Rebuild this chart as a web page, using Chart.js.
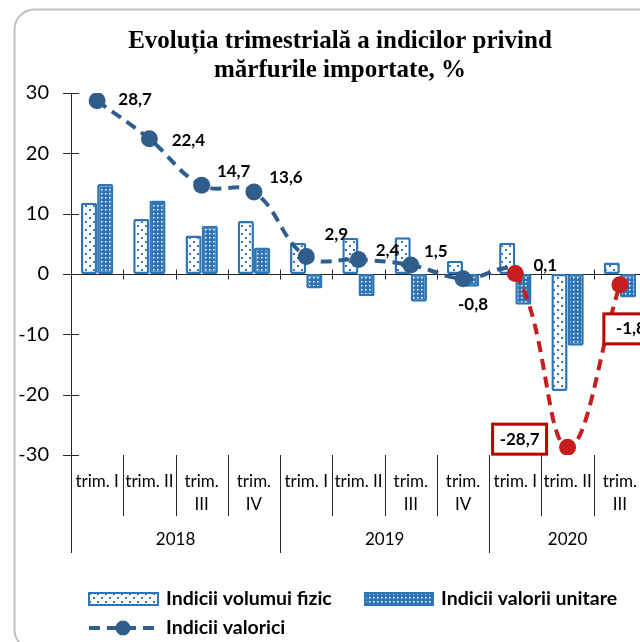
<!DOCTYPE html>
<html>
<head>
<meta charset="utf-8">
<script src="https://cdn.jsdelivr.net/npm/chart.js@4.4.1/dist/chart.umd.min.js"></script>
<style>
html,body{margin:0;padding:0;overflow:hidden;background:#fff;}
canvas{display:block;}
</style>
</head>
<body>
<canvas id="importChart" width="700" height="642"></canvas>
<script>
const categories = [['trim. I'],['trim. II'],['trim.','III'],['trim.','IV'],
                    ['trim. I'],['trim. II'],['trim.','III'],['trim.','IV'],
                    ['trim. I'],['trim. II'],['trim.','III']];
const years = ['2018','2019','2020'];
const yearSpans = [4,4,3];
const yTicks = [30,20,10,0,-10,-20,-30];
const volumFizic = [11.8, 9.1, 6.4, 8.8, 5.2, 6.0, 6.1, 2.2, 5.2, -19.4, 1.9];
const valoriUnitare = [14.9, 12.2, 8.0, 4.4, -2.4, -3.7, -4.6, -2.1, -5.1, -11.9, -3.9];
const indiciValorici = [28.7, 22.4, 14.7, 13.6, 2.9, 2.4, 1.5, -0.8, 0.1, -28.7, -1.8];
const seriesNames = ['Indicii volumui fizic','Indicii valorii unitare','Indicii valorici'];

// label placement, relative to the point
const labelOffsets = [[38,-1],[39,2],[32,-14],[32,-14],[30,-22],[29,-9],[25,-13],[10,26],[30,-8],[-48,-8],[11,44]];
const boxedLabels = [9,10];
const redFrom = 8;

const barBlue = '#2E75B6';
const lineBlue = '#2F5D8C';
const red = '#C41E1E';
const axisColor = '#262626';
const font = 'Lato';

function makePattern(size, bg, fg, dots) {
    let c = document.createElement('canvas');
    c.width = size; c.height = size;
    let g = c.getContext('2d');
    g.fillStyle = bg; g.fillRect(0,0,size,size);
    g.fillStyle = fg;
    dots.forEach(d=>g.fillRect(d[0],d[1],d[2],d[2]));
    return g.createPattern(c,'repeat');
}
const volPattern = makePattern(8,'#fff',barBlue,[[1,1,2],[5,5,2]]);
const unitPattern = makePattern(4,barBlue,'#fff',[[1,1,1.5]]);

function fmt(v) { return String(v).replace('.',','); }

const decor = {
    id: 'decor',
    beforeDraw(chart) {
        const ctx = chart.ctx;
        ctx.save();
        ctx.fillStyle = '#fff';
        ctx.fillRect(0,0,chart.width,chart.height);
        ctx.strokeStyle = '#BFBFBF';
        ctx.lineWidth = 2;
        ctx.beginPath();
        ctx.roundRect(14.5, 9.5, 760, 640, 20);
        ctx.stroke();
        ctx.fillStyle = '#000';
        ctx.font = 'bold 25px "Liberation Serif"';
        ctx.textAlign = 'center';
        ctx.textBaseline = 'alphabetic';
        ctx.fillText('Evoluția trimestrială a indicilor privind', 340, 48);
        ctx.fillText('mărfurile importate, %', 340, 77);
        ctx.restore();
    },
    beforeDatasetsDraw(chart) {
        const ctx = chart.ctx, x = chart.scales.x, y = chart.scales.y, area = chart.chartArea;
        const w = x.getPixelForValue(1) - x.getPixelForValue(0);
        ctx.save();
        ctx.strokeStyle = axisColor;
        ctx.lineWidth = 1;
        ctx.beginPath();
        yTicks.forEach(v=>{
            let py = Math.round(y.getPixelForValue(v)) + 0.5;
            ctx.moveTo(area.left - 8, py); ctx.lineTo(area.left + 8, py);
        });
        let zy = Math.round(y.getPixelForValue(0)) + 0.5;
        ctx.moveTo(area.left, zy); ctx.lineTo(area.right, zy);
        for (let i = 1; i <= categories.length; i++) {
            let bx = Math.round(x.getPixelForValue(i) - w/2) + 0.5;
            ctx.moveTo(bx, zy - 5); ctx.lineTo(bx, zy + 5);
        }
        ctx.stroke();
        ctx.restore();
    },
    afterDraw(chart) {
        const ctx = chart.ctx, x = chart.scales.x, y = chart.scales.y, area = chart.chartArea;
        const w = x.getPixelForValue(1) - x.getPixelForValue(0);
        ctx.save();

        // category axis, two levels
        let yearStarts = [0];
        yearSpans.forEach(s=>yearStarts.push(yearStarts[yearStarts.length-1] + s));
        ctx.strokeStyle = axisColor;
        ctx.lineWidth = 1;
        ctx.beginPath();
        for (let i = 0; i <= categories.length; i++) {
            let bx = Math.round(x.getPixelForValue(i) - w/2) + 0.5;
            let len = yearStarts.includes(i) ? 98 : 61;
            ctx.moveTo(bx, area.bottom); ctx.lineTo(bx, area.bottom + len);
        }
        ctx.stroke();
        ctx.fillStyle = '#000';
        ctx.font = '17px ' + font;
        ctx.textAlign = 'center';
        ctx.textBaseline = 'middle';
        categories.forEach((lab,i)=>{
            let cx = x.getPixelForValue(i);
            lab.forEach((line,j)=>ctx.fillText(line, cx, area.bottom + 27 + j*23));
        });
        years.forEach((yr,k)=>{
            let a = x.getPixelForValue(yearStarts[k]) - w/2;
            let b = x.getPixelForValue(yearStarts[k+1]) - w/2;
            ctx.fillText(yr, (a+b)/2, area.bottom + 85);
        });

        // data labels
        const meta = chart.getDatasetMeta(2);
        ctx.font = 'bold 17px ' + font;
        meta.data.forEach((pt,i)=>{
            let lx = pt.x + labelOffsets[i][0], ly = pt.y + labelOffsets[i][1];
            let txt = fmt(indiciValorici[i]);
            if (boxedLabels.includes(i)) {
                ctx.fillStyle = '#fff';
                ctx.strokeStyle = '#C00000';
                ctx.lineWidth = 3;
                ctx.fillRect(lx - 27, ly - 15, 54, 30);
                ctx.strokeRect(lx - 27, ly - 15, 54, 30);
            }
            ctx.fillStyle = '#000';
            ctx.fillText(txt, lx, ly);
        });

        // legend
        ctx.textAlign = 'left';
        ctx.font = 'bold 19.5px ' + font;
        ctx.lineWidth = 2;
        ctx.strokeStyle = barBlue;
        ctx.fillStyle = volPattern;
        ctx.fillRect(89, 593, 69, 12);
        ctx.strokeRect(89, 593, 69, 12);
        ctx.fillStyle = unitPattern;
        ctx.fillRect(365, 593, 68, 12);
        ctx.strokeRect(365, 593, 68, 12);
        ctx.fillStyle = '#000';
        ctx.fillText(seriesNames[0], 166, 599);
        ctx.fillText(seriesNames[1], 441, 599);
        ctx.fillText(seriesNames[2], 166, 628);
        ctx.strokeStyle = lineBlue;
        ctx.lineWidth = 4;
        ctx.setLineDash([11,7]);
        ctx.beginPath();
        ctx.moveTo(89, 628); ctx.lineTo(158, 628);
        ctx.stroke();
        ctx.setLineDash([]);
        ctx.fillStyle = lineBlue;
        ctx.beginPath();
        ctx.arc(123, 628, 7.5, 0, Math.PI*2);
        ctx.fill();
        ctx.restore();
    }
};

const pointColors = indiciValorici.map((v,i)=> i >= redFrom ? red : lineBlue);

new Chart(document.getElementById('importChart'), {
    data: {
        labels: categories,
        datasets: [
            { type:'bar', label: seriesNames[0], data: volumFizic, backgroundColor: volPattern,
              borderColor: barBlue, borderWidth: 2.5, borderRadius: 2, borderSkipped: false,
              categoryPercentage: 0.62, barPercentage: 1, order: 1 },
            { type:'bar', label: seriesNames[1], data: valoriUnitare, backgroundColor: unitPattern,
              borderColor: barBlue, borderWidth: 2.5, borderRadius: 2, borderSkipped: false,
              categoryPercentage: 0.62, barPercentage: 1, order: 1 },
            { type:'line', label: seriesNames[2], data: indiciValorici, order: 0,
              borderColor: lineBlue, borderWidth: 4, borderDash: [11,7], tension: 0.4,
              segment: { borderColor: c => c.p0DataIndex >= redFrom ? red : lineBlue },
              pointRadius: 8.5, pointBorderWidth: 0, pointBackgroundColor: pointColors }
        ]
    },
    options: {
        responsive: false,
        animation: false,
        layout: { padding: { left: 0, top: 93, right: 54, bottom: 187 } },
        plugins: { legend: { display: false }, tooltip: { enabled: false }, title: { display: false } },
        scales: {
            x: { display: false, offset: true },
            y: {
                min: -30, max: 30,
                afterFit(scale) { scale.width = 71; },
                grid: { display: false, drawTicks: false },
                border: { display: true, color: axisColor, width: 1 },
                ticks: { stepSize: 10, padding: 22, color: '#000', font: { family: font, size: 20 } }
            }
        }
    },
    plugins: [decor]
});
</script>
</body>
</html>
